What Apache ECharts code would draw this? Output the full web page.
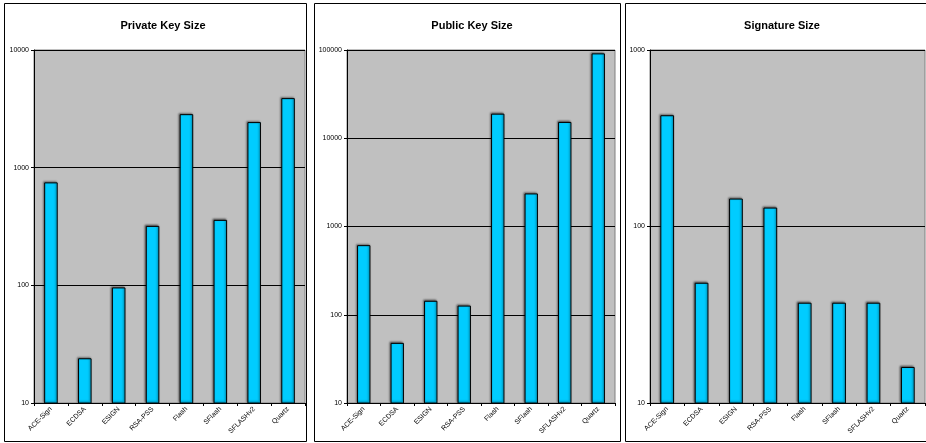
<!DOCTYPE html>
<html>
<head>
<meta charset="utf-8">
<script src="https://cdn.jsdelivr.net/npm/echarts@6/dist/echarts.min.js"></script>
<style>
  html, body { margin: 0; padding: 0; background: #fff; }
  #chart { width: 926px; height: 443px; }
</style>
</head>
<body>
<div id="chart"></div>
<script>
const categories = ['ACE-Sign', 'ECDSA', 'ESIGN', 'RSA-PSS', 'Flash', 'SFlash', 'SFLASHv2', 'Quartz']
const titles = ['Private Key Size', 'Public Key Size', 'Signature Size']
const privateKeySize = [750, 24, 96, 320, 2850, 360, 2440, 3900]
const publicKeySize = [615, 48, 144, 127, 19000, 2370, 15300, 91600]
const signatureSize = [427, 48, 144, 128, 37, 37, 37, 16]
const yMax = [10000, 100000, 1000]

const seriesData = [privateKeySize, publicKeySize, signatureSize]

// panel layout (pixels)
const grids = [
  { left: 34, top: 50, width: 271, height: 353 },
  { left: 347, top: 50, width: 268, height: 353 },
  { left: 650, top: 50, width: 275, height: 353 }
]
const panels = [
  { x: 4.5, y: 3.5, w: 302, h: 438 },
  { x: 314.5, y: 3.5, w: 306, h: 438 },
  { x: 625.5, y: 3.5, w: 310, h: 438 }
]
const titleCenters = [158, 467, 777]

const font = 'Liberation Sans, Arial, sans-serif'

const chart = echarts.init(document.getElementById('chart'))

chart.setOption({
  animation: false,
  textStyle: { fontFamily: font },
  graphic: panels.map(p => ({
    type: 'rect',
    shape: { x: p.x, y: p.y, width: p.w, height: p.h },
    style: { fill: 'none', stroke: '#000', lineWidth: 1 },
    z: -1
  })),
  title: titles.map((t, i) => ({
    text: t,
    left: titleCenters[i],
    top: 15,
    textAlign: 'center',
    textStyle: { fontSize: 11, fontWeight: 'bold', color: '#000', fontFamily: font }
  })),
  grid: grids.map(g => ({
    left: g.left,
    top: g.top,
    width: g.width,
    height: g.height,
    show: true,
    backgroundColor: '#c0c0c0',
    borderColor: '#808080',
    borderWidth: 1
  })),
  xAxis: grids.map((g, i) => ({
    type: 'category',
    gridIndex: i,
    data: categories,
    boundaryGap: true,
    axisLine: { lineStyle: { color: '#000', width: 1 } },
    axisTick: { show: true, length: 3, lineStyle: { color: '#000' } },
    axisLabel: {
      rotate: 45,
      fontSize: 7,
      color: '#000',
      margin: 5,
      interval: 0,
      fontFamily: font
    }
  })),
  yAxis: grids.map((g, i) => ({
    type: 'log',
    logBase: 10,
    gridIndex: i,
    min: 10,
    max: yMax[i],
    axisLine: { show: true, lineStyle: { color: '#000', width: 1 } },
    axisTick: { show: true, length: 3, lineStyle: { color: '#000' } },
    minorTick: { show: false },
    splitLine: { show: true, lineStyle: { color: '#000', width: 1 } },
    axisLabel: {
      fontSize: 7,
      color: '#000',
      margin: 5,
      fontFamily: font,
      formatter: v => String(Math.round(v))
    }
  })),
  series: seriesData.map((d, i) => ({
    type: 'bar',
    xAxisIndex: i,
    yAxisIndex: i,
    data: d,
    barWidth: '40%',
    itemStyle: {
      color: '#00ccff',
      borderColor: '#000',
      borderWidth: 1,
      shadowColor: 'rgba(0,0,0,0.45)',
      shadowBlur: 2,
      shadowOffsetX: -1,
      shadowOffsetY: -1
    }
  }))
})
</script>
</body>
</html>
